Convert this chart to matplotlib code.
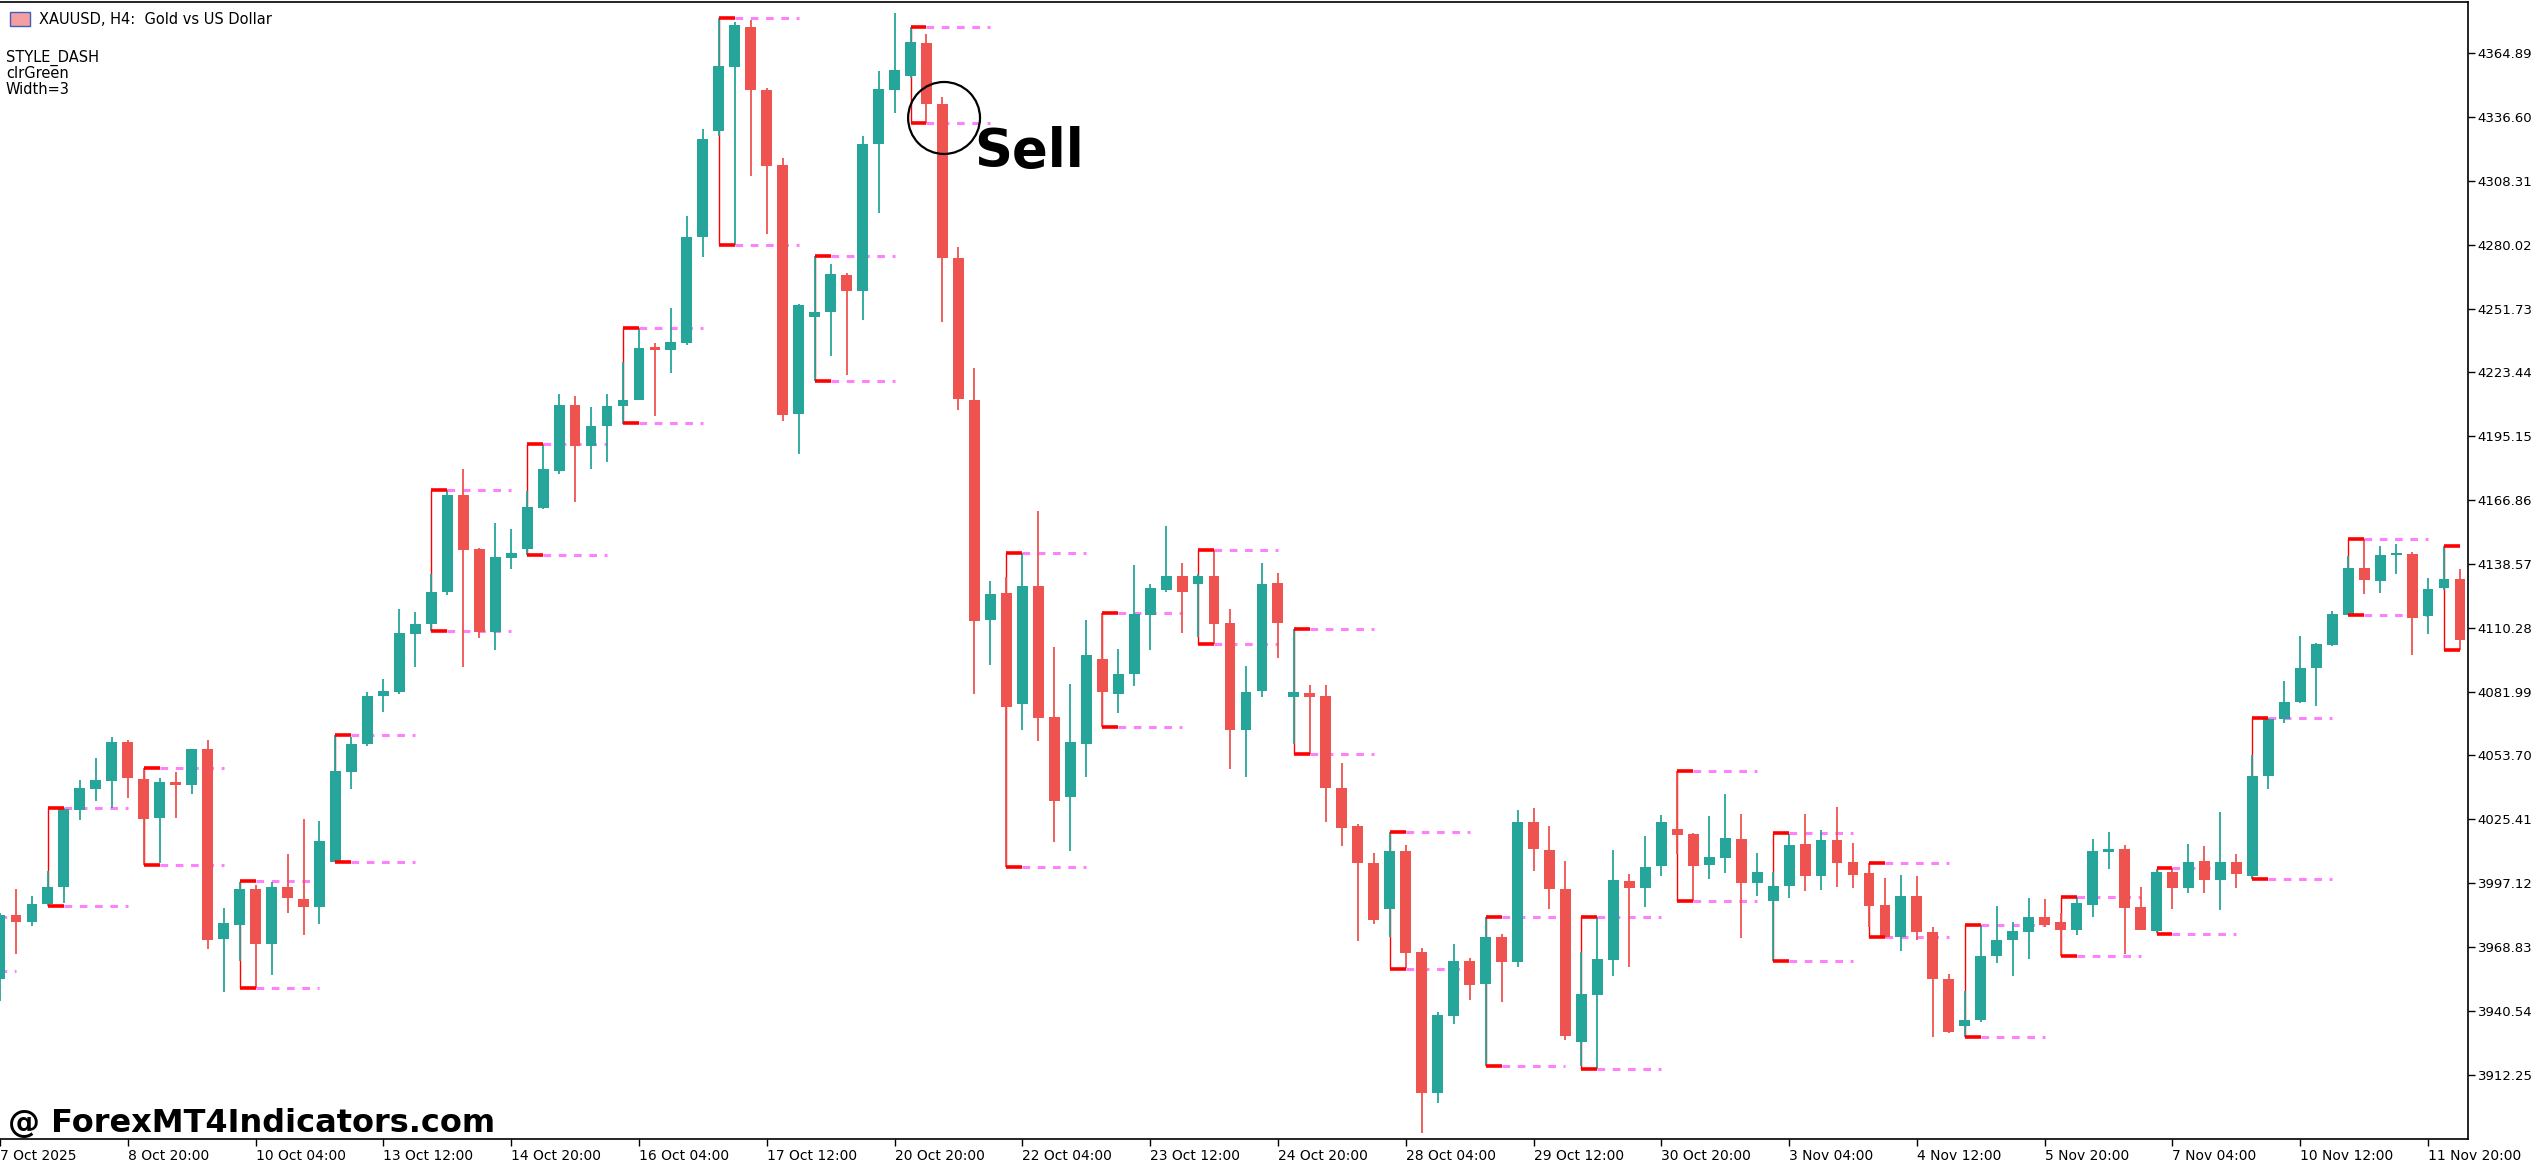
import matplotlib
matplotlib.use("Agg")
import matplotlib.pyplot as plt
from matplotlib.patches import Ellipse

# ---- OHLC (XAUUSD H4)
opens = [3954.7, 3982.9, 3980.0, 3987.8, 3995.4, 4029.4, 4039.0, 4042.4, 4059.5, 4043.2,
         4026.0, 4041.9, 4040.8, 4056.4, 3972.3, 3978.4, 3994.3, 3970.1, 3995.6, 3990.0,
         3986.7, 4006.3, 4046.4, 4058.7, 4080.0, 4081.7, 4107.6, 4111.9, 4125.9, 4168.9,
         4145.4, 4108.5, 4141.2, 4145.0, 4163.3, 4179.9, 4209.1, 4191.0, 4199.5, 4208.6,
         4211.2, 4234.5, 4233.5, 4236.5, 4283.4, 4330.5, 4358.6, 4376.6, 4348.5, 4315.3,
         4205.2, 4248.2, 4250.0, 4266.6, 4259.3, 4324.8, 4348.7, 4354.7, 4369.5, 4342.6,
         4274.3, 4211.0, 4113.8, 4125.7, 4076.6, 4128.6, 4070.9, 4035.4, 4058.8, 4096.4,
         4081.0, 4089.9, 4116.0, 4127.1, 4133.2, 4129.6, 4133.0, 4112.2, 4064.9, 4082.3,
         4130.0, 4079.8, 4081.5, 4080.0, 4039.4, 4022.4, 4006.1, 3985.8, 4011.3, 3966.4,
         3904.0, 3938.1, 3962.4, 3952.5, 3973.3, 3962.2, 4024.1, 4011.9, 3994.5, 3926.6,
         3947.6, 3963.1, 3998.0, 3995.1, 4004.8, 4021.1, 4018.8, 4005.3, 4008.4, 4016.7,
         3997.3, 3989.3, 3996.0, 4014.5, 4000.4, 4016.2, 4006.3, 4001.6, 3987.4, 3973.3,
         3991.4, 3975.5, 3954.7, 3933.8, 3936.3, 3964.7, 3971.7, 3975.5, 3981.9, 3979.8,
         3976.4, 3987.5, 4011.1, 4012.2, 3986.5, 3976.1, 4002.0, 3995.1, 4006.9, 3998.3,
         4006.3, 4000.3, 4044.6, 4070.0, 4077.2, 4092.3, 4102.6, 4116.1, 4136.8, 4131.2,
         4142.7, 4143.1, 4115.3, 4128.0, 4132.0]
highs = [3984.0, 3994.5, 3991.2, 4002.6, 4030.3, 4043.0, 4052.4, 4062.0, 4060.7, 4048.1,
         4043.7, 4046.2, 4056.4, 4060.7, 3986.0, 3997.8, 3996.3, 3997.8, 4010.1, 4025.3,
         4024.5, 4062.9, 4062.0, 4081.7, 4087.7, 4118.6, 4117.3, 4134.0, 4171.3, 4180.7,
         4145.7, 4156.6, 4154.1, 4171.1, 4191.7, 4214.0, 4213.0, 4208.0, 4213.8, 4228.0,
         4243.2, 4236.5, 4251.9, 4292.7, 4331.3, 4380.6, 4378.6, 4379.6, 4349.5, 4318.6,
         4253.7, 4275.1, 4271.7, 4267.4, 4328.1, 4357.0, 4382.6, 4376.6, 4373.5, 4345.6,
         4279.1, 4225.6, 4131.2, 4132.6, 4143.5, 4161.9, 4101.7, 4085.3, 4113.6, 4117.0,
         4100.7, 4137.9, 4129.6, 4155.4, 4138.9, 4134.2, 4144.9, 4118.5, 4093.2, 4138.9,
         4134.4, 4109.6, 4084.9, 4084.9, 4050.3, 4023.2, 4010.3, 4019.8, 4014.1, 3968.3,
         3940.0, 3969.9, 3963.8, 3982.2, 3974.5, 4029.7, 4030.3, 4022.4, 4006.9, 3966.4,
         3982.1, 4011.8, 4001.3, 4018.0, 4027.2, 4046.6, 4019.2, 4026.9, 4036.7, 4027.8,
         4010.5, 4002.0, 4018.9, 4027.8, 4020.7, 4030.9, 4014.9, 4006.2, 3999.4, 4000.7,
         4000.3, 3977.5, 3956.7, 3949.2, 3978.5, 3986.9, 3979.8, 3990.5, 3990.0, 3984.0,
         3991.1, 4016.7, 4019.8, 4014.0, 3995.4, 4003.2, 4003.7, 4014.5, 4013.4, 4028.5,
         4009.9, 4054.1, 4070.4, 4086.5, 4106.6, 4103.6, 4117.7, 4141.9, 4149.5, 4146.5,
         4147.3, 4143.9, 4132.4, 4146.5, 4136.2]
lows = [3945.0, 3965.7, 3977.9, 3986.9, 3988.4, 4024.9, 4033.6, 4030.3, 4034.9, 4005.0,
        4005.9, 4025.8, 4036.7, 3967.9, 3948.9, 3962.5, 3950.7, 3956.5, 3984.0, 3974.3,
        3978.8, 4006.3, 4039.0, 4057.8, 4072.8, 4081.0, 4093.1, 4108.9, 4124.9, 4093.1,
        4105.8, 4100.2, 4136.3, 4142.3, 4163.0, 4178.3, 4166.0, 4180.8, 4183.7, 4200.5,
        4211.2, 4204.1, 4223.1, 4235.7, 4274.7, 4328.1, 4279.7, 4310.7, 4284.6, 4202.1,
        4187.4, 4219.7, 4230.8, 4222.3, 4246.8, 4293.9, 4338.6, 4354.0, 4334.1, 4245.6,
        4207.0, 4080.8, 4093.6, 4004.4, 4064.9, 4060.0, 4015.4, 4011.5, 4044.3, 4066.3,
        4072.6, 4084.5, 4100.5, 4126.1, 4107.9, 4106.3, 4103.1, 4047.5, 4044.3, 4079.8,
        4097.0, 4058.8, 4054.2, 4024.1, 4013.7, 3971.5, 3979.2, 3973.3, 3959.4, 3886.2,
        3899.7, 3934.7, 3945.2, 3915.9, 3944.4, 3960.0, 4002.4, 3985.8, 3927.4, 3916.0,
        3914.7, 3956.0, 3960.0, 3986.6, 4000.4, 4010.0, 3989.3, 3999.1, 4001.7, 3972.9,
        3991.5, 3962.7, 3990.6, 3993.7, 3994.2, 3995.5, 3994.9, 3977.8, 3973.0, 3967.1,
        3972.1, 3928.9, 3930.7, 3928.9, 3935.6, 3961.8, 3955.9, 3963.6, 3977.8, 3964.7,
        3974.2, 3982.2, 4003.4, 3965.6, 3976.4, 3975.2, 3985.6, 3992.9, 3992.8, 3985.4,
        3994.8, 3998.9, 4038.6, 4068.0, 4076.8, 4075.8, 4102.2, 4116.1, 4125.2, 4125.8,
        4134.2, 4098.0, 4107.6, 4127.2, 4100.2]
closes = [3982.9, 3980.0, 3987.8, 3995.6, 4029.8, 4039.4, 4042.8, 4059.5, 4043.9, 4025.5,
          4041.9, 4040.8, 4056.4, 3971.9, 3979.5, 3994.3, 3970.1, 3995.2, 3990.5, 3986.7,
          4015.7, 4046.8, 4058.7, 4080.2, 4082.1, 4107.8, 4112.1, 4126.2, 4169.3, 4144.8,
          4108.5, 4141.8, 4143.6, 4163.7, 4180.7, 4209.1, 4191.0, 4199.8, 4208.6, 4211.2,
          4234.1, 4233.5, 4236.9, 4283.4, 4327.0, 4359.2, 4377.4, 4348.7, 4315.1, 4204.7,
          4253.3, 4250.0, 4267.0, 4259.3, 4324.6, 4349.1, 4357.4, 4369.9, 4342.6, 4274.3,
          4211.8, 4113.4, 4125.1, 4075.2, 4128.6, 4070.3, 4033.6, 4059.6, 4098.4, 4081.9,
          4090.0, 4116.4, 4127.8, 4133.4, 4126.3, 4133.0, 4112.0, 4064.9, 4081.9, 4129.6,
          4112.4, 4081.9, 4079.8, 4039.4, 4021.6, 4006.1, 3980.8, 4011.3, 3966.2, 3904.0,
          3938.5, 3962.4, 3952.1, 3973.3, 3962.2, 4024.1, 4012.3, 3994.5, 3929.4, 3947.8,
          3963.4, 3998.5, 3995.1, 4004.3, 4024.2, 4018.6, 4004.8, 4008.7, 4017.1, 3997.3,
          4001.9, 3995.8, 4013.9, 4000.4, 4016.2, 4006.2, 4000.8, 3987.1, 3973.3, 3991.4,
          3975.5, 3954.7, 3931.1, 3936.6, 3964.7, 3971.8, 3975.8, 3981.9, 3978.6, 3976.4,
          3988.3, 4011.4, 4012.1, 3986.2, 3976.4, 4002.0, 3995.1, 4006.5, 3998.3, 4006.3,
          4001.3, 4044.6, 4070.0, 4077.2, 4092.3, 4103.0, 4116.3, 4136.8, 4131.6, 4142.7,
          4143.1, 4114.7, 4127.4, 4132.0, 4105.0]

# ---- indicator levels: (first bar of pair, high, low)
level_bars = [-4, 3, 9, 15, 21, 27, 33, 39, 45, 51, 57, 63, 69, 75, 81, 87, 93, 99,
              105, 111, 117, 123, 129, 135, 141, 147, 153]
level_highs = [3982.0, 4030.3, 4048.1, 3997.9, 4062.9, 4171.3, 4191.7, 4243.2, 4380.6,
               4275.1, 4376.6, 4143.5, 4117.0, 4144.9, 4109.6, 4019.8, 3982.2, 3982.2,
               4046.6, 4019.1, 4006.2, 3978.5, 3991.1, 4003.9, 4070.4, 4149.5, 4146.5]
level_lows = [3958.0, 3986.9, 4005.0, 3950.7, 4006.6, 4108.9, 4142.3, 4200.9, 4279.7,
              4219.7, 4334.1, 4004.4, 4066.3, 4103.1, 4054.2, 3959.0, 3915.9, 3914.7,
              3989.3, 3962.7, 3973.3, 3928.9, 3964.7, 3974.5, 3999.1, 4116.1, 4100.2]

y_ticks = [3912.25, 3940.54, 3968.83, 3997.12, 4025.41, 4053.70, 4081.99, 4110.28,
           4138.57, 4166.86, 4195.15, 4223.44, 4251.73, 4280.02, 4308.31, 4336.60, 4364.89]
x_tick_bars = [0, 8, 16, 24, 32, 40, 48, 56, 64, 72, 80, 88, 96, 104, 112, 120, 128, 136, 144, 152]
x_tick_labels = ["7 Oct 2025", "8 Oct 20:00", "10 Oct 04:00", "13 Oct 12:00", "14 Oct 20:00",
                 "16 Oct 04:00", "17 Oct 12:00", "20 Oct 20:00", "22 Oct 04:00", "23 Oct 12:00",
                 "24 Oct 20:00", "28 Oct 04:00", "29 Oct 12:00", "30 Oct 20:00", "3 Nov 04:00",
                 "4 Nov 12:00", "5 Nov 20:00", "7 Nov 04:00", "10 Nov 12:00", "11 Nov 20:00"]

UP = "#26a69a"
DOWN = "#ef5350"

fig = plt.figure(figsize=(25.34, 11.65), dpi=100)
ax = fig.add_axes([0, 1 - 1139 / 1165, 2468 / 2534, (1139 - 2) / 1165])

## candles
for i, (o, h, l, c) in enumerate(zip(opens, highs, lows, closes)):
    col = UP if c >= o else DOWN
    ax.vlines(i, l, h, color=col, lw=1.3, zorder=2)
    lo, hi = min(o, c), max(o, c)
    if hi - lo < 0.6:
        hi = lo + 0.6
    ax.bar(i, hi - lo, bottom=lo, width=0.68, color=col, linewidth=0, zorder=3)

## range levels
for k, hv, lv in zip(level_bars, level_highs, level_lows):
    ax.vlines(k, lv, hv, color="#ff0000", lw=1.0, zorder=1)
    for v in (hv, lv):
        ax.plot([k, k + 1], [v, v], color="#ff0000", lw=2.6, zorder=4, solid_capstyle="butt")
        if k + 1 < len(opens) - 1:
            ax.plot([k + 1, k + 5], [v, v], color="#ff80ff", lw=2.2, ls=(0, (2.5, 2.5)), zorder=1)

## sell marker
ax.add_patch(Ellipse((59.1, 4336.2), 4.5, 31.9, fill=False, ec="black", lw=1.6, zorder=5))
ax.text(61.0, 4321, "Sell", fontsize=38, fontweight="heavy", color="black", va="center", ha="left")

ax.set_xlim(0.23, 154.5)
ax.set_ylim(3883.7, 4387.6)
ax.yaxis.tick_right()
ax.set_yticks(y_ticks)
ax.set_yticklabels([f"{v:.2f}" for v in y_ticks], fontsize=9.5)
ax.set_xticks(x_tick_bars)
ax.set_xticklabels(x_tick_labels, fontsize=10, ha="left")
ax.tick_params(axis="both", length=5, width=1, direction="out", pad=2)
ax.spines["left"].set_visible(False)
for s in ("right", "bottom", "top"):
    ax.spines[s].set_linewidth(1.2)

## header text
fig.text(39 / 2534, 1 - 19 / 1165, "XAUUSD, H4:  Gold vs US Dollar", fontsize=10.5, va="center")
fig.patches.append(plt.Rectangle((10 / 2534, 1 - 26 / 1165), 20 / 2534, 14 / 1165,
                                 transform=fig.transFigure, fc="#f4a0a0", ec="#4060c0", lw=1))
for j, t in enumerate(["STYLE_DASH", "clrGreen", "Width=3"]):
    fig.text(6 / 2534, 1 - (58 + 16 * j) / 1165, t, fontsize=10.5, va="center")

fig.text(8 / 2534, 1 - 1123 / 1165, "@ ForexMT4Indicators.com", fontsize=23,
         fontweight="bold", va="center")

fig.savefig("out.png", dpi=100, facecolor="white")
